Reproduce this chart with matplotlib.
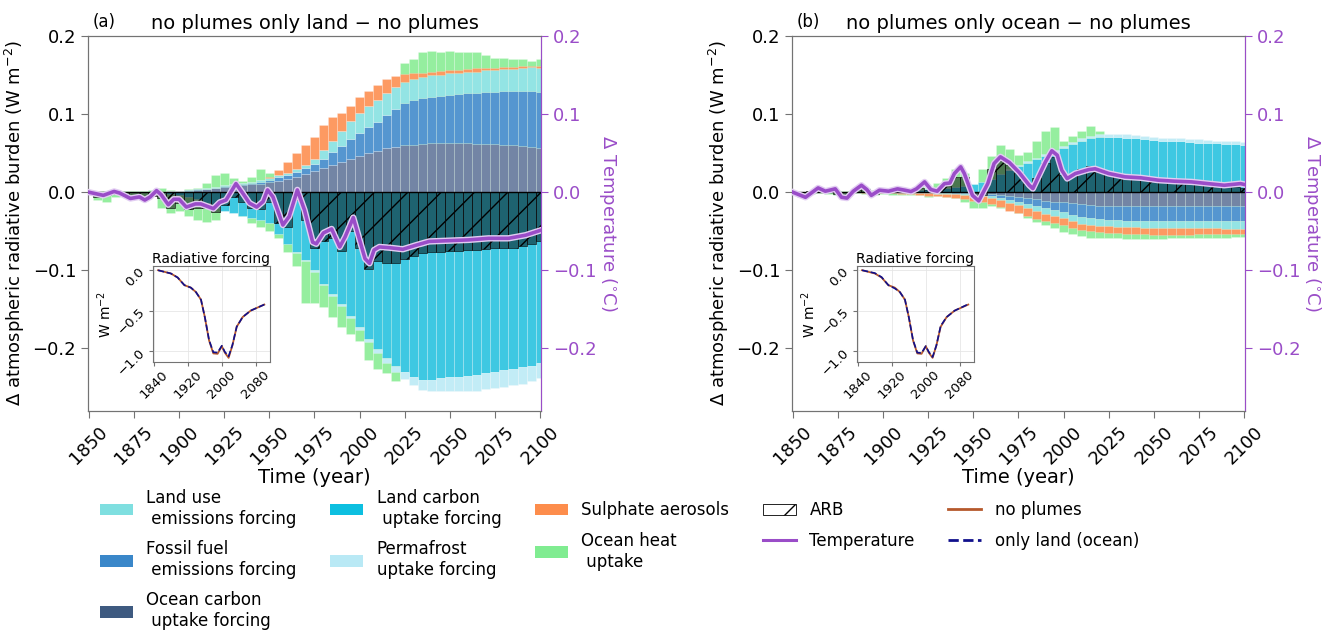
import matplotlib
matplotlib.use('Agg')
import matplotlib.pyplot as plt
import matplotlib.patheffects as pe
from matplotlib.patches import Patch
from matplotlib.lines import Line2D
import numpy as np

# 5-year steps, 1850 ... 2100 (51 bars)
years = np.arange(1850, 2101, 5)

# ---------------- panel (a): no plumes only land - no plumes ----------------
# positive stack (bottom to top)
oc_a = [0, 0, 0, 0, 0, 0, 0, 0.0005, 0.0008, 0.001,
        0.0015, 0.002, 0.003, 0.004, 0.005, 0.007, 0.008, 0.009, 0.010, 0.011,
        0.013, 0.015, 0.017, 0.020, 0.023, 0.027, 0.031, 0.035, 0.039, 0.043,
        0.047, 0.050, 0.053, 0.056, 0.058, 0.060, 0.061, 0.062, 0.0625, 0.0625,
        0.0625, 0.0625, 0.0624, 0.0622, 0.062, 0.0615, 0.061, 0.060, 0.059, 0.058,
        0.057]
ff_a = [0, 0, 0, 0, 0, 0, 0, 0, 0, 0,
        0.0003, 0.0004, 0.0005, 0.0007, 0.001, 0.0012, 0.0015, 0.0017, 0.002, 0.0025,
        0.003, 0.004, 0.005, 0.006, 0.008, 0.009, 0.012, 0.016, 0.020, 0.025,
        0.029, 0.033, 0.037, 0.043, 0.049, 0.054, 0.057, 0.059, 0.060, 0.061,
        0.0625, 0.0635, 0.064, 0.065, 0.066, 0.067, 0.068, 0.069, 0.070, 0.071,
        0.0716]
lu_a = [0, 0, 0, 0, 0, 0, 0, 0, 0, 0,
        0.0003, 0.0005, 0.0007, 0.0008, 0.001, 0.001, 0.001, 0.0012, 0.0015, 0.0018,
        0.002, 0.0025, 0.003, 0.0035, 0.004, 0.007, 0.011, 0.015, 0.019, 0.023,
        0.026, 0.027, 0.028, 0.028, 0.028, 0.027, 0.027, 0.027, 0.027, 0.027,
        0.027, 0.027, 0.027, 0.027, 0.028, 0.028, 0.029, 0.029, 0.030, 0.031,
        0.031]
so4_a = [0, 0, 0, 0, 0, 0, 0, 0, 0, 0,
         0, 0, 0, 0, 0, 0, 0, 0, 0, 0.0005,
         0.001, 0.0065, 0.014, 0.0205, 0.025, 0.028, 0.032, 0.030, 0.024, 0.019,
         0.020, 0.020, 0.019, 0.018, 0.014, 0.010, 0.007, 0.005, 0.0045, 0.0045,
         0.004, 0.004, 0.0046, 0.0043, 0.003, 0.003, 0.002, 0.0025, 0.002, 0.001,
         0.0014]
# negative stack (top to bottom), magnitudes
lc_a = [0, 0, 0, 0, 0, 0, 0, 0.0005, 0.001, 0.002,
        0.004, 0.006, 0.009, 0.014, 0.020, 0.024, 0.027, 0.030, 0.033, 0.036,
        0.040, 0.053, 0.066, 0.077, 0.087, 0.100, 0.117, 0.130, 0.143, 0.158,
        0.173, 0.188, 0.201, 0.212, 0.222, 0.230, 0.236, 0.240, 0.240, 0.238,
        0.237, 0.236, 0.235, 0.234, 0.232, 0.230, 0.228, 0.226, 0.224, 0.222,
        0.219]
pf_a = [0, 0, 0, 0, 0, 0, 0, 0, 0, 0,
        0, 0, 0, 0, 0, 0, 0, 0, 0, 0,
        0, 0, 0, 0.0005, 0.001, 0.0015, 0.002, 0.0025, 0.003, 0.003,
        0.003, 0.004, 0.005, 0.007, 0.008, 0.009, 0.011, 0.013, 0.015, 0.016,
        0.017, 0.018, 0.019, 0.020, 0.020, 0.021, 0.021, 0.021, 0.021, 0.020,
        0.019]
# ocean heat uptake, visible extent above / below
ohu_up_a = [0.002, 0.001, 0.002, 0.001, 0.001, 0.002, 0.001, 0.003, 0.005, 0.003,
            0.002, 0.004, 0.006, 0.012, 0.022, 0.024, 0.018, 0.014, 0.020, 0.030,
            0.025, 0, 0, 0, 0, 0, 0, 0, 0, 0,
            0, 0, 0, 0, 0, 0.165, 0.170, 0.180, 0.181, 0.180,
            0.181, 0.180, 0.180, 0.179, 0.176, 0.172, 0.172, 0.171, 0.170, 0.168,
            0.170]
ohu_dn_a = [0, -0.010, -0.012, -0.006, -0.005, -0.008, -0.010, -0.004, -0.020, -0.026,
            -0.024, -0.030, -0.035, -0.038, -0.035, -0.020, -0.015, -0.030, -0.040, -0.045,
            -0.050, -0.058, -0.076, -0.094, -0.142, -0.142, -0.147, -0.160, -0.172, -0.182,
            -0.190, -0.215, -0.226, -0.232, -0.241, 0, 0, 0, 0, 0,
            0, 0, 0, 0, 0, 0, 0, 0, 0, 0,
            0]
arb_a = [-0.001, -0.006, -0.004, -0.002, -0.005, -0.009, -0.009, -0.005, -0.008, -0.020,
         -0.014, -0.022, -0.020, -0.020, -0.025, -0.016, -0.006, -0.012, -0.020, -0.022,
         -0.012, -0.040, -0.045, -0.010, -0.035, -0.072, -0.062, -0.058, -0.075, -0.050,
         -0.072, -0.098, -0.088, -0.090, -0.090, -0.086, -0.082, -0.078, -0.076, -0.076,
         -0.075, -0.075, -0.074, -0.074, -0.073, -0.072, -0.072, -0.071, -0.069, -0.066,
         -0.062]
temp_a_years = [1850, 1858, 1864, 1867, 1873, 1878, 1881, 1884, 1887.5, 1890,
                1894, 1897, 1900, 1904, 1909, 1912, 1919, 1922.5, 1926, 1931.5,
                1935.5, 1939, 1943, 1946.5, 1949, 1952, 1957.5, 1961, 1965.5, 1969.5,
                1974, 1976, 1980, 1984.5, 1989, 1992, 1996.5, 2000, 2003, 2005.5,
                2008, 2011, 2016.5, 2024, 2031, 2038.5, 2049.5, 2060.5, 2071.5, 2082.5,
                2092, 2100]
temp_a = [0.0, -0.004, 0.001, -0.001, -0.008, -0.006, -0.010, -0.006, 0.002, -0.003,
          -0.016, -0.009, -0.009, -0.019, -0.015, -0.015, -0.021, -0.013, -0.010, 0.011,
          -0.002, -0.014, -0.019, -0.012, 0.003, -0.006, -0.042, -0.031, 0.003, -0.023,
          -0.064, -0.066, -0.052, -0.047, -0.070, -0.057, -0.0325, -0.061, -0.085, -0.091,
          -0.074, -0.070, -0.071, -0.073, -0.068, -0.063, -0.062, -0.061, -0.059, -0.059,
          -0.055, -0.049]

# ---------------- panel (b): no plumes only ocean - no plumes ----------------
lc_b = [0, 0, 0, 0, 0, 0, 0, 0, 0, 0,
        0.001, 0.0012, 0.0015, 0.002, 0.003, 0.004, 0.005, 0.006, 0.007, 0.008,
        0.010, 0.013, 0.017, 0.023, 0.029, 0.034, 0.038, 0.042, 0.047, 0.052,
        0.057, 0.062, 0.066, 0.069, 0.071, 0.071, 0.0705, 0.070, 0.069, 0.068,
        0.067, 0.066, 0.0655, 0.065, 0.064, 0.0635, 0.063, 0.0625, 0.062, 0.0615,
        0.061]
pf_b = [0, 0, 0, 0, 0, 0, 0, 0, 0, 0,
        0, 0, 0, 0, 0, 0, 0, 0, 0, 0,
        0, 0, 0, 0.0005, 0.001, 0.0012, 0.0015, 0.0018, 0.002, 0.0023,
        0.0025, 0.0028, 0.003, 0.0033, 0.0036, 0.004, 0.004, 0.004, 0.004, 0.004,
        0.004, 0.004, 0.004, 0.004, 0.004, 0.004, 0.0038, 0.0036, 0.0035, 0.0035,
        0.0034]
oc_b = [0, 0, 0, 0, 0, 0, 0, 0, 0, 0,
        0.0002, 0.0003, 0.0004, 0.0005, 0.0006, 0.0007, 0.0008, 0.001, 0.0012, 0.0014,
        0.0017, 0.002, 0.0026, 0.0035, 0.0047, 0.006, 0.0075, 0.0093, 0.011, 0.012,
        0.013, 0.0143, 0.0155, 0.0163, 0.017, 0.0175, 0.0178, 0.018, 0.018, 0.018,
        0.018, 0.018, 0.018, 0.018, 0.0179, 0.0178, 0.0177, 0.0176, 0.0176, 0.0175,
        0.0175]
ff_b = [0, 0, 0, 0, 0, 0, 0, 0, 0, 0,
        0, 0, 0, 0, 0.0002, 0.0003, 0.0004, 0.0005, 0.0007, 0.0009,
        0.0012, 0.0017, 0.0025, 0.0037, 0.0052, 0.0065, 0.0076, 0.0088, 0.0098, 0.011,
        0.0125, 0.0145, 0.016, 0.0168, 0.0173, 0.0176, 0.018, 0.0183, 0.0186, 0.0188,
        0.019, 0.0191, 0.0192, 0.0192, 0.0193, 0.0193, 0.0194, 0.0194, 0.0195, 0.0195,
        0.0195]
lu_b = [0, 0, 0, 0, 0, 0, 0, 0, 0, 0,
        0, 0, 0, 0, 0.0003, 0.0004, 0.0005, 0.0006, 0.0008, 0.001,
        0.0012, 0.0015, 0.002, 0.0027, 0.0034, 0.004, 0.0047, 0.0058, 0.0067, 0.0075,
        0.008, 0.0085, 0.0086, 0.0086, 0.0086, 0.0086, 0.0085, 0.0085, 0.0085, 0.0085,
        0.0085, 0.0085, 0.0085, 0.0087, 0.009, 0.0092, 0.0093, 0.0094, 0.0095, 0.0095,
        0.0096]
so4_b = [0, 0, 0, 0, 0, 0, 0, 0.0003, 0.0005, 0.0006,
         0.0008, 0.001, 0.0015, 0.002, 0.0025, 0.003, 0.0035, 0.004, 0.0045, 0.0055,
         0.0065, 0.0075, 0.0085, 0.0095, 0.0102, 0.0105, 0.0105, 0.010, 0.0098, 0.0095,
         0.009, 0.0087, 0.0086, 0.0085, 0.0084, 0.0084, 0.0085, 0.0087, 0.0088, 0.0088,
         0.0087, 0.0086, 0.0085, 0.0083, 0.008, 0.0078, 0.0077, 0.0076, 0.0075, 0.0075,
         0.0074]
ohu_up_b = [0.001, 0, 0.002, 0.004, 0.003, 0.001, 0.002, 0.004, 0.005, 0.003,
            0.004, 0.006, 0.005, 0.004, 0.008, 0.006, 0.012, 0.018, 0.030, 0.025,
            0.003, 0.030, 0.047, 0.060, 0.055, 0.048, 0.052, 0.066, 0.078, 0.083,
            0.066, 0.072, 0.078, 0.085, 0.078, 0, 0, 0, 0, 0,
            0, 0, 0, 0, 0, 0, 0, 0, 0, 0,
            0]
ohu_dn_b = [-0.003, -0.006, -0.002, -0.001, -0.002, -0.004, -0.005, -0.001, -0.002, -0.004,
            -0.002, -0.003, -0.003, -0.004, -0.004, -0.006, -0.005, -0.006, -0.007, -0.012,
            -0.020, -0.020, -0.018, -0.020, -0.022, -0.026, -0.033, -0.038, -0.042, -0.046,
            -0.051, -0.054, -0.056, -0.058, -0.059, -0.059, -0.059, -0.060, -0.060, -0.060,
            -0.060, -0.060, -0.059, -0.059, -0.059, -0.059, -0.058, -0.058, -0.058, -0.057,
            -0.057]
arb_b = [-0.001, -0.004, 0.002, 0.003, 0.002, -0.002, -0.003, 0.003, 0.004, -0.002,
         0.002, 0.003, 0.002, 0.001, 0.006, 0.003, 0.002, 0.008, 0.020, 0.020,
         -0.004, -0.004, 0.030, 0.040, 0.035, 0.025, 0.010, 0.018, 0.038, 0.045,
         0.022, 0.022, 0.030, 0.033, 0.028, 0.024, 0.021, 0.019, 0.018, 0.017,
         0.015, 0.014, 0.013, 0.012, 0.011, 0.010, 0.009, 0.008, 0.007, 0.007,
         0.006]
temp_b_years = [1850, 1857, 1864, 1868, 1873.5, 1877, 1880, 1883.5, 1888, 1891,
                1893.5, 1898, 1903, 1908, 1912, 1915.5, 1918.5, 1923, 1926.5, 1930,
                1934, 1937, 1939.5, 1943, 1945, 1949.5, 1953, 1958, 1961.5, 1965,
                1970, 1975.5, 1981, 1983, 1986.5, 1990, 1993.5, 1996.5, 1999, 2002,
                2006.5, 2014, 2017.5, 2025, 2034, 2043, 2052.5, 2061.5, 2071, 2080,
                2089, 2098, 2100]
temp_b = [0.0, -0.0065, 0.0055, 0.0013, 0.0043, -0.0065, -0.0075, 0.0013, 0.0089, 0.0034,
          -0.004, 0.0026, 0.0013, 0.0043, 0.0026, 0.0009, 0.0043, 0.0132, 0.0034, 0.0013,
          0.011, 0.0118, 0.0239, 0.0325, 0.024, -0.004, -0.0111, 0.011, 0.0368, 0.0453,
          0.038, 0.025, 0.009, 0.0047, 0.022, 0.039, 0.053, 0.0474, 0.0282, 0.0175,
          0.0239, 0.029, 0.030, 0.024, 0.0197, 0.0184, 0.0154, 0.0141, 0.0132, 0.011,
          0.0089, 0.011, 0.010]

# ---------------- inset: radiative forcing ----------------
rf_years = [1850, 1880, 1896, 1912, 1927, 1939, 1951, 1960, 1970, 1980,
            1990, 2000, 2007, 2016, 2025, 2035, 2049, 2068, 2100]
rf_noplumes = [0.0, -0.04, -0.09, -0.185, -0.215, -0.27, -0.365, -0.58, -0.87, -1.03,
               -1.035, -0.94, -1.02, -1.085, -0.93, -0.70, -0.58, -0.50, -0.425]
rf_onlyland = [0.0, -0.04, -0.09, -0.185, -0.215, -0.27, -0.365, -0.58, -0.865, -1.015,
               -1.02, -0.935, -1.01, -1.065, -0.925, -0.70, -0.58, -0.50, -0.425]
rf_onlyocean = [0.0, -0.035, -0.085, -0.185, -0.225, -0.27, -0.365, -0.58, -0.865, -1.02,
                -1.025, -0.94, -1.01, -1.075, -0.93, -0.69, -0.58, -0.50, -0.42]

# colours (bar colours look lighter than the legend patches)
bar_col = {'lu': '#93e4e4', 'ff': '#5596d0', 'oc': '#7385a5', 'lc': '#3ec8e2',
           'pf': '#c2ecf6', 'so4': '#fd9a62', 'ohu': '#95ee9f'}
leg_col = {'lu': '#7fdfe0', 'ff': '#3a87c9', 'oc': '#3e5a80', 'lc': '#0dbfe0',
           'pf': '#b9e9f5', 'so4': '#fd8d4c', 'ohu': '#80ec91'}
purple = '#9a4dc8'
spine_col = '0.45'
stripe = (1, 1, 1, 0.35)


def stack(ax, parts, cols, sign):
    base = np.zeros(len(years))
    for vals, c in zip(parts, cols):
        v = sign * np.array(vals)
        ax.bar(years, v, width=5, bottom=base, color=c, edgecolor=stripe,
               linewidth=0.4, zorder=2)
        base = base + v


def panel(ax, up, dn, up_cols, dn_cols, ohu_up, ohu_dn, arb, t_yrs, t_vals,
          rf_np, rf_other, tag, title):
    ax.bar(years, ohu_up, width=5, color=bar_col['ohu'], edgecolor=stripe, linewidth=0.4, zorder=1)
    ax.bar(years, ohu_dn, width=5, color=bar_col['ohu'], edgecolor=stripe, linewidth=0.4, zorder=1)
    stack(ax, up, up_cols, 1)
    stack(ax, dn, dn_cols, -1)
    ax.bar(years, arb, width=5, facecolor=(0, 0, 0, 0.5), edgecolor='black',
           hatch='/', linewidth=0.4, zorder=3)
    ax.axhline(0, color='black', lw=1.0, zorder=4)

    ax.set_xlim(1849.5, 2100.5)
    ax.set_ylim(-0.28, 0.2)
    ax.set_yticks([-0.2, -0.1, 0.0, 0.1, 0.2])
    ax.set_xticks(range(1850, 2101, 25))
    ax.tick_params(axis='x', labelrotation=45, labelsize=13, length=5, color=spine_col)
    ax.tick_params(axis='y', labelsize=13, length=5, color=spine_col)
    ax.set_xlabel('Time (year)', fontsize=14, labelpad=0)
    ax.set_ylabel('Δ atmospheric radiative burden (W m$^{-2}$)', fontsize=13)
    ax.set_title(title, fontsize=14, pad=5)
    ax.text(0.01, 1.012, tag, transform=ax.transAxes, fontsize=12, va='bottom')
    for s in ax.spines.values():
        s.set_color(spine_col)

    ax2 = ax.twinx()
    ax2.plot(t_yrs, t_vals, color=purple, lw=2.6, zorder=5,
             path_effects=[pe.Stroke(linewidth=4.6, foreground='#e2cdf2'), pe.Normal()])
    ax2.set_ylim(-0.28, 0.2)
    ax2.set_yticks([-0.2, -0.1, 0.0, 0.1, 0.2])
    ax2.tick_params(axis='y', colors=purple, labelsize=13, length=5)
    ax2.set_ylabel('Δ Temperature ($^{\\circ}$C)', color=purple, fontsize=13,
                   rotation=270, labelpad=16)
    for k, s in ax2.spines.items():
        s.set_color(purple if k == 'right' else spine_col)

    ins = ax.inset_axes([0.143, 0.13, 0.258, 0.257])
    ins.plot(rf_years, rf_np, color='#b5582c', lw=1.3)
    ins.plot(rf_years, rf_other, color='#10108c', lw=1.2, ls='--')
    ins.set_title('Radiative forcing', fontsize=10, pad=2)
    ins.set_ylabel('W m$^{-2}$', fontsize=10, labelpad=1)
    ins.set_xticks([1840, 1920, 2000, 2080])
    ins.set_yticks([0.0, -0.5, -1.0])
    ins.tick_params(labelsize=9.5, labelrotation=45, length=3, pad=1, color=spine_col)
    ins.grid(True, color='0.9', lw=0.6)
    for s in ins.spines.values():
        s.set_color(spine_col)


fig = plt.figure(figsize=(13.23, 6.32), dpi=100)
ax_a = fig.add_axes([0.0665, 0.3497, 0.3424, 0.5934])
ax_b = fig.add_axes([0.5986, 0.3497, 0.3424, 0.5934])

panel(ax_a, [oc_a, ff_a, lu_a, so4_a], [lc_a, pf_a],
      [bar_col['oc'], bar_col['ff'], bar_col['lu'], bar_col['so4']],
      [bar_col['lc'], bar_col['pf']],
      ohu_up_a, ohu_dn_a, arb_a, temp_a_years, temp_a,
      rf_noplumes, rf_onlyland, '(a)', 'no plumes only land − no plumes')
panel(ax_b, [lc_b, pf_b], [oc_b, ff_b, lu_b, so4_b],
      [bar_col['lc'], bar_col['pf']],
      [bar_col['oc'], bar_col['ff'], bar_col['lu'], bar_col['so4']],
      ohu_up_b, ohu_dn_b, arb_b, temp_b_years, temp_b,
      rf_noplumes, rf_onlyocean, '(b)', 'no plumes only ocean − no plumes')

handles = [
    Patch(facecolor=leg_col['lu']), Patch(facecolor=leg_col['ff']), Patch(facecolor=leg_col['oc']),
    Patch(facecolor=leg_col['lc']), Patch(facecolor=leg_col['pf']),
    Patch(facecolor=leg_col['so4']), Patch(facecolor=leg_col['ohu']),
    Patch(facecolor='white', edgecolor='black', hatch='/', linewidth=0.6),
    Line2D([], [], color=purple, lw=2.2),
    Line2D([], [], color='#b5582c', lw=2.0),
    Line2D([], [], color='#10108c', lw=2.0, ls='--'),
]
labels = ['Land use\n emissions forcing', 'Fossil fuel\n emissions forcing',
          'Ocean carbon\n uptake forcing', 'Land carbon\n uptake forcing',
          'Permafrost\nuptake forcing', 'Sulphate aerosols', 'Ocean heat\n uptake',
          'ARB', 'Temperature', 'no plumes', 'only land (ocean)']
fig.legend(handles, labels, ncol=5, loc='upper left', bbox_to_anchor=(0.0665, 0.245),
           frameon=False, fontsize=12, labelspacing=0.75, borderaxespad=0.3)

fig.savefig('out.png', dpi=100)
